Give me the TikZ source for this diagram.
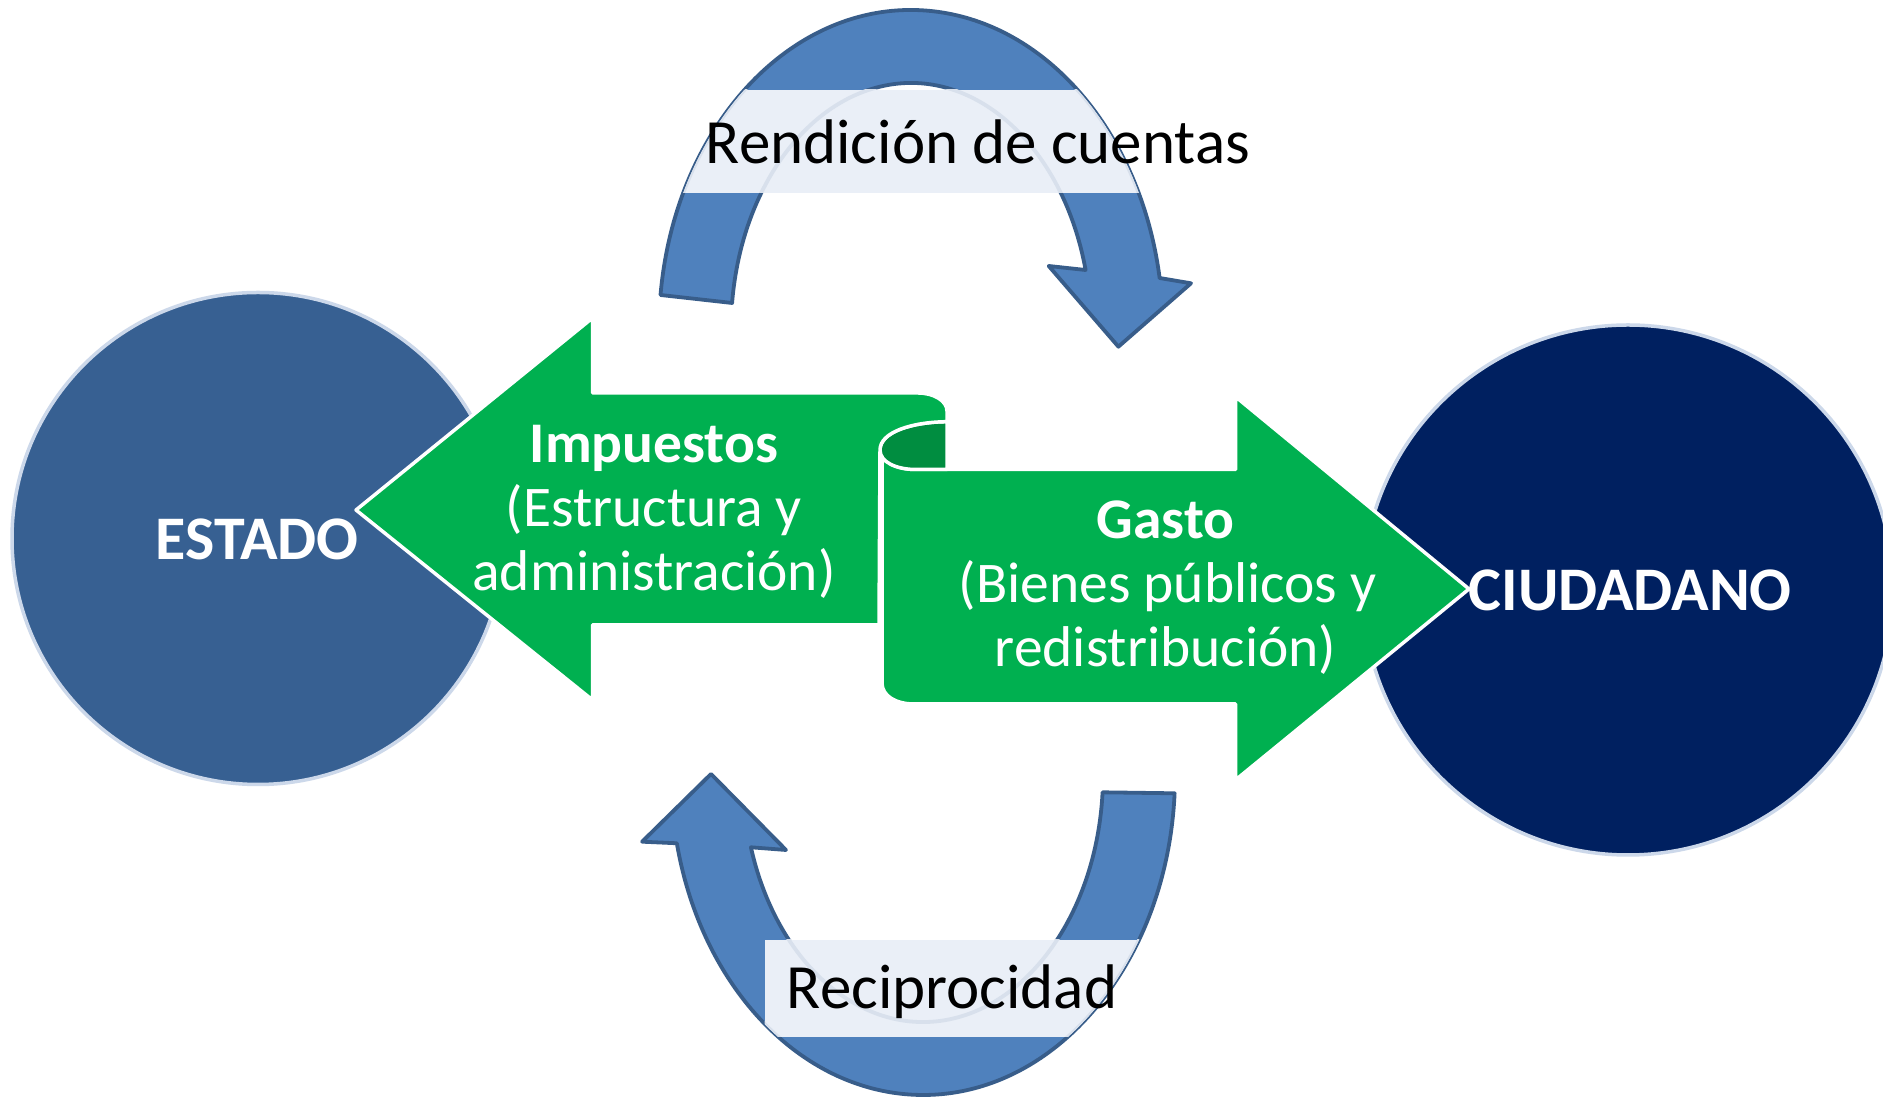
\documentclass[tikz,border=0pt]{standalone}
\usepackage{fontspec}
\setmainfont{Carlito}
\definecolor{estadoblue}{HTML}{376092}
\definecolor{ciudblue}{HTML}{002060}
\definecolor{grn}{HTML}{00B050}
\definecolor{dkgrn}{HTML}{008D40}
\definecolor{arrfill}{HTML}{4F81BD}
\definecolor{arrline}{HTML}{385D8A}
\definecolor{circline}{HTML}{CCD8EA}
\definecolor{bandcol}{HTML}{EAEFF7}
\colorlet{faintline}{bandcol!90!arrline}
\tikzset{
  greenshape/.style={fill=grn, draw=white, line width=3.5pt, line join=round},
  foldshape/.style={fill=dkgrn, draw=white, line width=3.5pt, line join=round},
  bluearrow/.style={fill=arrfill, draw=arrline, line width=3.8pt, line join=round},
  faintarrow/.style={draw=faintline, line width=3.8pt, line join=round},
  bigcirc/.style={circle, draw=circline, line width=3.5pt, inner sep=0pt},
  bandfill/.style={fill=bandcol},
  labeltext/.style={anchor=base, inner sep=0pt, font=\fontsize{63}{70}\selectfont, text=black},
  circtext/.style={anchor=base, inner sep=0pt, font=\bfseries\fontsize{62}{70}\selectfont, text=white},
  grnbold/.style={anchor=base, inner sep=0pt, font=\bfseries\fontsize{57.5}{64}\selectfont, text=white},
  grnreg/.style={anchor=base, inner sep=0pt, font=\fontsize{57.5}{64}\selectfont, text=white}
}
\def\toparrowpath{(660.5,808)
  arc[start angle=173.72, end angle=9.35, x radius=252, y radius=320]
  -- (1191,819.7) -- (1118.4,756.3) -- (1048.7,837) -- (1085.6,833)
  arc[start angle=14.06, end angle=173.72, x radius=180, y radius=247]
  -- cycle}
\def\botarrowpath{(1174.6,309.7)
  arc[start angle=-3.28, end angle=-167.68, x radius=252, y radius=320]
  -- (642.1,261.3) -- (711,329) -- (786,253) -- (750.9,255.7)
  arc[start angle=-162.98, end angle=-4.02, x radius=180, y radius=247]
  -- cycle}
\begin{document}
\begin{tikzpicture}[x=1pt,y=1pt]
\useasboundingbox (0,0) rectangle (1883,1103);
\fill[white] (0,0) rectangle (1883,1103);

% circles
\node[bigcirc, fill=estadoblue, minimum size=492pt] (estado) at (258,564.5) {};
\node[bigcirc, fill=ciudblue, minimum size=530pt] (ciudadano) at (1628,513) {};

% curved arrows
\draw[bluearrow] \toparrowpath;
\draw[bluearrow] \botarrowpath;

% text bands (with the arrow outline showing faintly through)
\begin{scope}
  \clip (911,773) ellipse [x radius=252, y radius=320];
  \clip (600,910.3) rectangle (1250,1013.3);
  \fill[bandfill] (600,910.3) rectangle (1250,1013.3);
  \draw[faintarrow] \toparrowpath;
\end{scope}
\begin{scope}
  \clip (923,328) ellipse [x radius=252, y radius=320];
  \clip (764.6,66.3) rectangle (1250,163);
  \fill[bandfill] (764.6,66.3) rectangle (1250,163);
  \draw[faintarrow] \botarrowpath;
\end{scope}

% green right arrow (Gasto)
\draw[greenshape] (882,653) -- (882,420)
  .. controls (882,407) and (896,399) .. (914,399)
  -- (1235.5,399) -- (1235.5,323) -- (1469,514) -- (1235.5,706.3)
  -- (1235.5,633.5) -- (916,633.5)
  .. controls (896,633.5) and (882,641) .. (882,653) -- cycle;

% dark fold of the scroll
\draw[foldshape] (947,681.3)
  .. controls (912,681) and (880,671) .. (880,653)
  .. controls (880,641) and (896,633.5) .. (916,633.5)
  -- (947,633.5) -- cycle;

% green left arrow (Impuestos)
\draw[greenshape] (356,593) -- (592.5,785) -- (592.5,710) -- (918,710)
  .. controls (934,710) and (947,702) .. (947,692) -- (947,681.3)
  .. controls (912,681) and (880,671) .. (880,653)
  -- (879,478) -- (592.5,478) -- (592.5,403) -- cycle;

% texts
\node[labeltext] (rendicion) at (978,939.7) {Rendición de cuentas};
\node[labeltext] (reciprocidad) at (952,94.5) {Reciprocidad};
\node[circtext] (estadotxt) at (257.2,543) {ESTADO};
\node[circtext] (ciudtxt) at (1630.3,492.3) {CIUDADANO};
\node[grnbold] (imp1) at (654,640.3) {Impuestos};
\node[grnreg] (imp2) at (654,576.3) {(Estructura y};
\node[grnreg] (imp3) at (654,512.3) {administración)};
\node[grnbold] (gas1) at (1165.6,564.7) {Gasto};
\node[grnreg] (gas2) at (1167.6,500.3) {(Bienes públicos y};
\node[grnreg] (gas3) at (1165.5,436.3) {redistribución)};
\end{tikzpicture}
\end{document}
